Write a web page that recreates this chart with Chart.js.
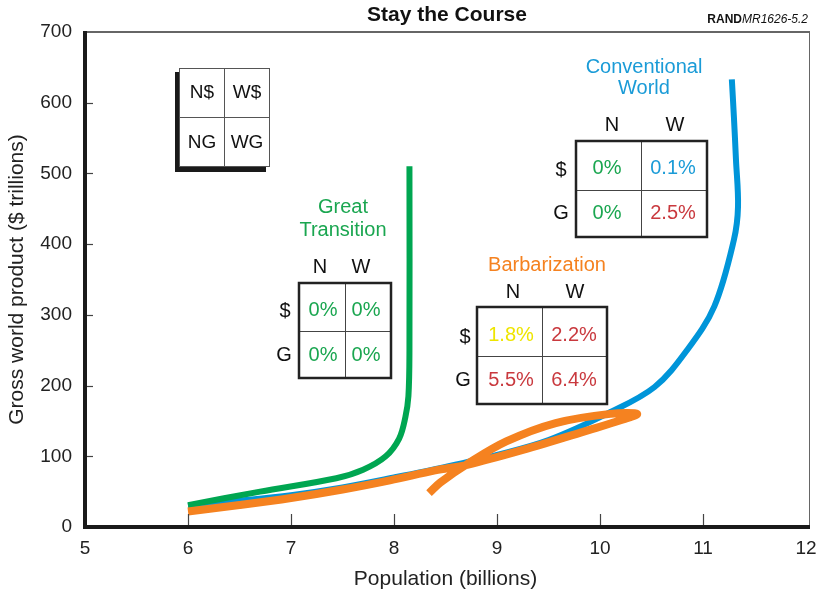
<!DOCTYPE html>
<html>
<head>
<meta charset="utf-8">
<script src="https://cdn.jsdelivr.net/npm/chart.js@4.4.1/dist/chart.umd.min.js"></script>
<style>
  html, body { margin: 0; padding: 0; background: #fff; }
  #wrap { width: 818px; height: 597px; position: relative; }
</style>
</head>
<body>
<div id="wrap"><canvas id="c" width="818" height="597"></canvas></div>
<script>
// ---- Data ----
const xTicks = [5, 6, 7, 8, 9, 10, 11, 12];
const yTicks = [0, 100, 200, 300, 400, 500, 600, 700];

// Great Transition: population (billions) vs GWP ($ trillions)
const greatPop = [6.0, 6.7, 7.44, 7.7, 7.92, 8.05, 8.11, 8.14, 8.15, 8.15];
const greatGwp = [31, 50, 69, 81, 100, 125, 155, 185, 250, 510];

// Conventional World
const convPop = [6.0, 6.5, 7.0, 7.5, 8.0, 8.5, 9.0, 9.5, 10.08, 10.53, 10.85, 11.11, 11.30, 11.34, 11.32, 11.30, 11.28];
const convGwp = [30, 37, 45, 56, 70, 85, 102, 123, 161, 198, 251, 312, 406, 453, 520, 580, 633];

// Barbarization (rises, then turns back)
const barbPop = [6.0, 6.5, 7.0, 7.5, 7.96, 8.4, 8.71, 9.25, 9.89, 10.2, 10.36, 10.1, 9.57, 9.09, 8.71, 8.45, 8.34];
const barbGwp = [22, 31, 41, 53, 66, 80, 88, 109, 137, 151, 160, 160, 147, 121, 89, 63, 48];

// Table contents (order: N$, W$, NG, WG)
const tableCols = ['N', 'W'];
const tableRows = ['$', 'G'];
const legendCells = ['N$', 'W$', 'NG', 'WG'];
const greatRates = ['0%', '0%', '0%', '0%'];
const barbRates = ['1.8%', '2.2%', '5.5%', '6.4%'];
const convRates = ['0%', '0.1%', '0%', '2.5%'];

// ---- Styles ----
const GREEN = '#00a651', BLUE = '#0095d9', ORANGE = '#f58220';
const T_GREEN = '#1aa650', T_BLUE = '#1a9bd7', T_RED = '#c9393e', T_YELLOW = '#eee500', T_ORANGE = '#f58220';
const FONT = '"Liberation Sans", Arial, Helvetica, sans-serif';

const toPts = (xs, ys) => xs.map((x, i) => ({ x: x, y: ys[i] }));

const tables = [
  { title: ['Great', 'Transition'], titleColor: T_GREEN, titleX: 343, titleY: [207, 230],
    colX: [320, 361], headY: 267, rowX: [285, 284], rowY: [311, 355],
    box: [299, 283, 391, 378], midX: 345, midY: 331,
    cellX: [323, 366], cellY: [310, 355],
    values: greatRates, colors: [T_GREEN, T_GREEN, T_GREEN, T_GREEN] },
  { title: ['Barbarization'], titleColor: T_ORANGE, titleX: 547, titleY: [265],
    colX: [513, 575], headY: 292, rowX: [465, 463], rowY: [337, 380],
    box: [477, 307, 607, 404], midX: 542, midY: 356,
    cellX: [511, 574], cellY: [335, 380],
    values: barbRates, colors: [T_YELLOW, T_RED, T_RED, T_RED] },
  { title: ['Conventional', 'World'], titleColor: T_BLUE, titleX: 644, titleY: [67, 88],
    colX: [612, 675], headY: 125, rowX: [561, 561], rowY: [170, 213],
    box: [576, 141, 707, 237], midX: 641, midY: 190,
    cellX: [607, 673], cellY: [168, 213],
    values: convRates, colors: [T_GREEN, T_BLUE, T_GREEN, T_RED] }
];

const decorPlugin = {
  id: 'decor',
  afterDatasetsDraw(chart) {
    const ctx = chart.ctx;
    const xs = chart.scales.x, ys = chart.scales.y;
    const L = chart.chartArea.left, R = chart.chartArea.right, T = chart.chartArea.top, B = chart.chartArea.bottom;
    ctx.save();
    // frame
    ctx.strokeStyle = '#333'; ctx.lineWidth = 1.3;
    ctx.beginPath(); ctx.moveTo(L, T); ctx.lineTo(R + 4, T); ctx.stroke();
    ctx.strokeStyle = '#666'; ctx.lineWidth = 1;
    ctx.beginPath(); ctx.moveTo(R + 3.5, T); ctx.lineTo(R + 3.5, B); ctx.stroke();
    ctx.fillStyle = '#1a1a1a';
    ctx.fillRect(L - 2, T - 1, 4, B - T + 3);
    ctx.fillRect(L - 2, B - 2, R - L + 6, 4);
    // inner ticks
    ctx.strokeStyle = '#444'; ctx.lineWidth = 1.2;
    xTicks.forEach(v => {
      if (v === xs.min || v === xs.max) return;
      const px = Math.round(xs.getPixelForValue(v)) + 0.5;
      ctx.beginPath(); ctx.moveTo(px, B - 2); ctx.lineTo(px, B - 13); ctx.stroke();
    });
    yTicks.forEach(v => {
      if (v === ys.min || v === ys.max) return;
      const py = Math.round(ys.getPixelForValue(v)) + 0.5;
      ctx.beginPath(); ctx.moveTo(L + 2, py); ctx.lineTo(L + 8, py); ctx.stroke();
    });

    // header title
    ctx.textAlign = 'center'; ctx.textBaseline = 'middle';
    ctx.fillStyle = '#111';
    ctx.font = 'bold 21px ' + FONT;
    ctx.fillText('Stay the Course', 447, 15);
    ctx.textAlign = 'left';
    ctx.font = 'bold 12px ' + FONT;
    const w1 = ctx.measureText('RAND').width;
    ctx.font = 'italic 12px ' + FONT;
    const w2 = ctx.measureText('MR1626-5.2').width;
    let sx = 808 - w1 - w2;
    ctx.font = 'bold 12px ' + FONT;
    ctx.fillText('RAND', sx, 20);
    ctx.font = 'italic 12px ' + FONT;
    ctx.fillText('MR1626-5.2', sx + w1, 20);

    // legend key box
    ctx.fillStyle = '#1a1a1a';
    ctx.fillRect(175, 72, 91, 100);
    ctx.fillStyle = '#fff';
    ctx.fillRect(179, 68, 91, 99);
    ctx.strokeStyle = '#555'; ctx.lineWidth = 1;
    ctx.strokeRect(179.5, 68.5, 90, 98);
    ctx.beginPath();
    ctx.moveTo(224.5, 68); ctx.lineTo(224.5, 167);
    ctx.moveTo(179, 117.5); ctx.lineTo(270, 117.5);
    ctx.stroke();
    ctx.fillStyle = '#111'; ctx.textAlign = 'center';
    ctx.font = '19px ' + FONT;
    const lx = [202, 247], ly = [93, 143];
    legendCells.forEach((t, i) => ctx.fillText(t, lx[i % 2], ly[Math.floor(i / 2)]));

    // scenario tables
    tables.forEach(tb => {
      ctx.textAlign = 'center'; ctx.textBaseline = 'middle';
      ctx.font = '20px ' + FONT;
      ctx.fillStyle = tb.titleColor;
      tb.title.forEach((t, i) => ctx.fillText(t, tb.titleX, tb.titleY[i]));
      ctx.fillStyle = '#111';
      tableCols.forEach((t, i) => ctx.fillText(t, tb.colX[i], tb.headY));
      tableRows.forEach((t, i) => ctx.fillText(t, tb.rowX[i], tb.rowY[i]));
      const [x0, y0, x1, y1] = tb.box;
      ctx.fillStyle = '#fff';
      ctx.fillRect(x0, y0, x1 - x0, y1 - y0);
      ctx.strokeStyle = '#444'; ctx.lineWidth = 1;
      ctx.beginPath();
      ctx.moveTo(tb.midX + 0.5, y0); ctx.lineTo(tb.midX + 0.5, y1);
      ctx.moveTo(x0, tb.midY + 0.5); ctx.lineTo(x1, tb.midY + 0.5);
      ctx.stroke();
      ctx.strokeStyle = '#222'; ctx.lineWidth = 2.5;
      ctx.strokeRect(x0, y0, x1 - x0, y1 - y0);
      tb.values.forEach((v, i) => {
        ctx.fillStyle = tb.colors[i];
        ctx.fillText(v, tb.cellX[i % 2], tb.cellY[Math.floor(i / 2)]);
      });
    });
    ctx.restore();
  }
};

new Chart(document.getElementById('c'), {
  type: 'scatter',
  data: {
    datasets: [
      { label: 'Barbarization', data: toPts(barbPop, barbGwp), borderColor: ORANGE, backgroundColor: ORANGE,
        borderWidth: 8, showLine: true, pointRadius: 0, tension: 0.35, borderCapStyle: 'butt' },
      { label: 'Great Transition', data: toPts(greatPop, greatGwp), borderColor: GREEN, backgroundColor: GREEN,
        borderWidth: 6, showLine: true, pointRadius: 0, tension: 0.35, borderCapStyle: 'butt' },
      { label: 'Conventional World', data: toPts(convPop, convGwp), borderColor: BLUE, backgroundColor: BLUE,
        borderWidth: 6, showLine: true, pointRadius: 0, tension: 0.35, borderCapStyle: 'butt' }
    ]
  },
  options: {
    responsive: false,
    animation: false,
    events: [],
    layout: { padding: { left: 0, right: 12, top: 32, bottom: 0 } },
    plugins: { legend: { display: false }, tooltip: { enabled: false }, title: { display: false } },
    scales: {
      x: {
        type: 'linear', min: 5, max: 12,
        afterFit: s => { s.height = 70; s.paddingLeft = 0; s.paddingRight = 0; },
        afterBuildTicks: s => { s.ticks = xTicks.map(v => ({ value: v })); },
        ticks: { font: { family: FONT, size: 19 }, color: '#222', padding: 10 },
        grid: { display: false, drawTicks: false },
        border: { display: false },
        title: { display: true, text: 'Population (billions)', font: { family: FONT, size: 21 }, color: '#222', padding: { top: 0, bottom: 5 } }
      },
      y: {
        type: 'linear', min: 0, max: 700,
        afterFit: s => { s.width = 85; s.paddingTop = 0; s.paddingBottom = 0; },
        afterBuildTicks: s => { s.ticks = yTicks.map(v => ({ value: v })); },
        ticks: { font: { family: FONT, size: 19 }, color: '#222', padding: 13 },
        grid: { display: false, drawTicks: false },
        border: { display: false },
        title: { display: true, text: 'Gross world product ($ trillions)', font: { family: FONT, size: 21 }, color: '#222', padding: { top: 5, bottom: 0 } }
      }
    }
  },
  plugins: [decorPlugin]
});
</script>
</body>
</html>
